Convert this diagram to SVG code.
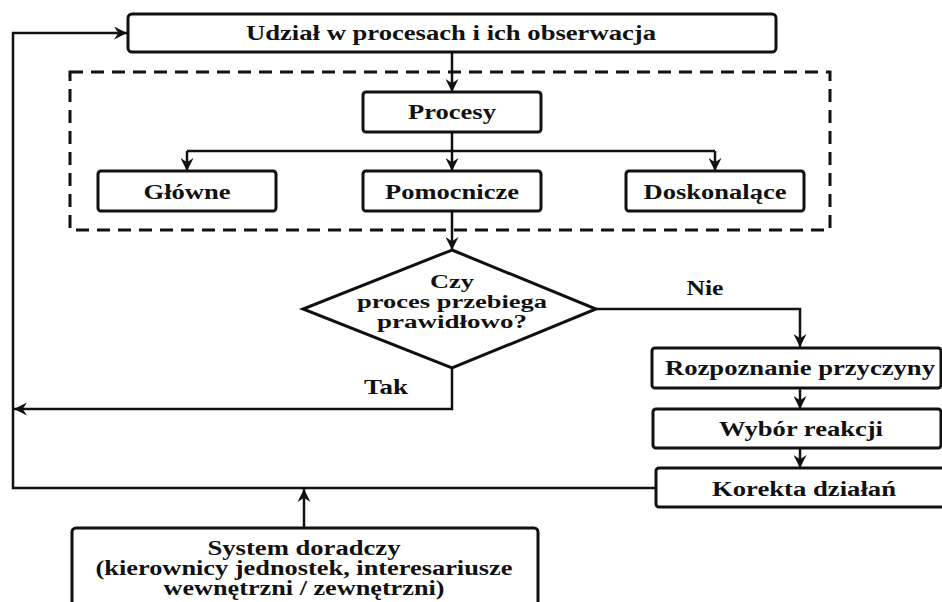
<svg xmlns="http://www.w3.org/2000/svg" width="942" height="602" viewBox="0 0 942 602">
<style>
  .box { fill: #fff; stroke: #111; stroke-width: 3; }
  .dash { fill: none; stroke: #111; stroke-width: 3; stroke-dasharray: 13 8; }
  .conn { fill: none; stroke: #111; stroke-width: 2.5; }
  text { font-family: "Liberation Serif", "Times New Roman", serif; font-weight: bold; font-size: 20px; fill: #111; text-anchor: middle; }
  .dtext { font-size: 18px; }
</style>
<defs>
  <marker id="arr" markerUnits="userSpaceOnUse" markerWidth="13" markerHeight="13" viewBox="0 0 12 12" refX="12" refY="6" orient="auto">
    <path d="M0,0 L12,6 L0,12 L4,6 z" fill="#111"/>
  </marker>
</defs>
<rect width="942" height="602" fill="#fff"/>

<g id="connectors">
  <path class="conn" d="M656,488 H13 V33 H127" marker-end="url(#arr)"/>
  <path class="conn" d="M452,52 V92" marker-end="url(#arr)"/>
  <path class="conn" d="M452,132 V171" marker-end="url(#arr)"/>
  <path class="conn" d="M187,151 H715"/>
  <path class="conn" d="M187,151 V171" marker-end="url(#arr)"/>
  <path class="conn" d="M715,151 V171" marker-end="url(#arr)"/>
  <path class="conn" d="M452,211 V250" marker-end="url(#arr)"/>
  <path class="conn" d="M596,309 H800 V347" marker-end="url(#arr)"/>
  <path class="conn" d="M800,388 V409" marker-end="url(#arr)"/>
  <path class="conn" d="M800,448 V468" marker-end="url(#arr)"/>
  <path class="conn" d="M452,368 V409 H14" marker-end="url(#arr)"/>
  <path class="conn" d="M304,528 V489" marker-end="url(#arr)"/>
  <text x="705" y="295" textLength="37" lengthAdjust="spacingAndGlyphs">Nie</text>
  <text x="386" y="394" textLength="44" lengthAdjust="spacingAndGlyphs">Tak</text>
</g>

<g id="group-procesy">
  <rect class="dash" x="70" y="72" width="760" height="158"/>
</g>

<g id="udzial">
  <rect class="box" x="128" y="14" width="648" height="38" rx="4"/>
  <text x="451" y="40" textLength="410" lengthAdjust="spacingAndGlyphs">Udział w procesach i ich obserwacja</text>
</g>

<g id="procesy">
  <rect class="box" x="363" y="92" width="178" height="40" rx="3"/>
  <text x="452" y="119" textLength="88" lengthAdjust="spacingAndGlyphs">Procesy</text>
</g>

<g id="glowne">
  <rect class="box" x="98" y="171" width="178" height="40" rx="3"/>
  <text x="187" y="199" textLength="87" lengthAdjust="spacingAndGlyphs">Główne</text>
</g>

<g id="pomocnicze">
  <rect class="box" x="363" y="171" width="178" height="40" rx="3"/>
  <text x="452" y="199" textLength="134" lengthAdjust="spacingAndGlyphs">Pomocnicze</text>
</g>

<g id="doskonalace">
  <rect class="box" x="626" y="171" width="178" height="40" rx="3"/>
  <text x="715" y="199" textLength="143" lengthAdjust="spacingAndGlyphs">Doskonalące</text>
</g>

<g id="decyzja">
  <polygon class="box" points="452,250 596,309 452,368 303,309"/>
  <text class="dtext" x="452" y="288" textLength="44" lengthAdjust="spacingAndGlyphs">Czy</text>
  <text class="dtext" x="452" y="308" textLength="190" lengthAdjust="spacingAndGlyphs">proces przebiega</text>
  <text class="dtext" x="452" y="328" textLength="150" lengthAdjust="spacingAndGlyphs">prawidłowo?</text>
</g>

<g id="rozpoznanie">
  <rect class="box" x="652" y="348" width="289" height="40" rx="3"/>
  <text x="800" y="375" textLength="270" lengthAdjust="spacingAndGlyphs">Rozpoznanie przyczyny</text>
</g>

<g id="wybor">
  <rect class="box" x="653" y="409" width="288" height="39" rx="3"/>
  <text x="801" y="436" textLength="164" lengthAdjust="spacingAndGlyphs">Wybór reakcji</text>
</g>

<g id="korekta">
  <rect class="box" x="656" y="468" width="290" height="39" rx="3"/>
  <text x="804" y="496" textLength="184" lengthAdjust="spacingAndGlyphs">Korekta działań</text>
</g>

<g id="system-doradczy">
  <rect class="box" x="72" y="528" width="466" height="90" rx="4"/>
  <text x="304" y="555" textLength="193" lengthAdjust="spacingAndGlyphs">System doradczy</text>
  <text x="304" y="575" textLength="417" lengthAdjust="spacingAndGlyphs">(kierownicy jednostek, interesariusze</text>
  <text x="304" y="595" textLength="281" lengthAdjust="spacingAndGlyphs">wewnętrzni / zewnętrzni)</text>
</g>
</svg>
